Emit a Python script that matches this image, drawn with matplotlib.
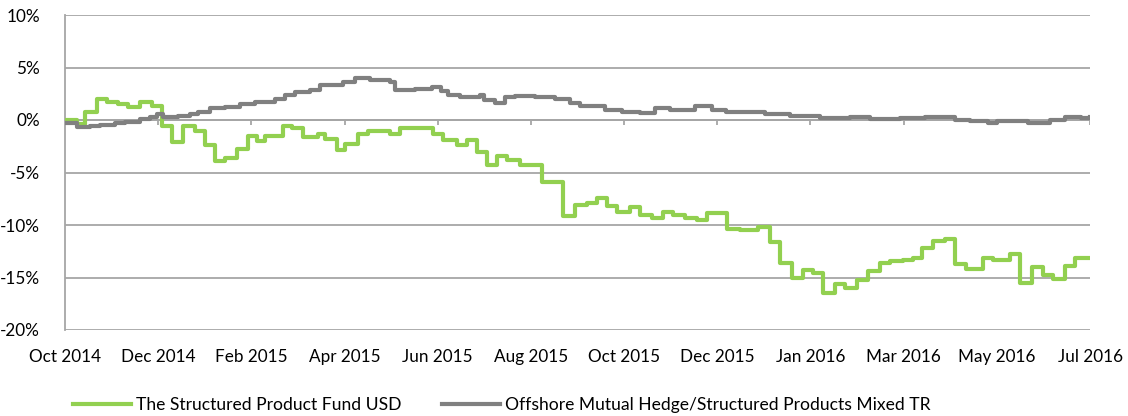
import numpy as np
import matplotlib
matplotlib.use("Agg")
import matplotlib.pyplot as plt

plt.rcParams['font.family'] = ['Lato', 'DejaVu Sans']

# axis labels (equally spaced category ticks)
tick_labels = ["Oct 2014", "Dec 2014", "Feb 2015", "Apr 2015", "Jun 2015", "Aug 2015",
               "Oct 2015", "Dec 2015", "Jan 2016", "Mar 2016", "May 2016", "Jul 2016"]

# The Structured Product Fund USD: step start (tick-index units), return %
fund_x = [0.00, 0.13, 0.21, 0.34, 0.45, 0.57, 0.68, 0.80, 0.93, 1.04, 1.15, 1.27,
          1.40, 1.50, 1.61, 1.72, 1.85, 1.96, 2.06, 2.15, 2.34, 2.44, 2.55, 2.72,
          2.79, 2.92, 3.00, 3.14, 3.25, 3.49, 3.60, 3.95, 4.06, 4.21, 4.31, 4.42,
          4.53, 4.64, 4.74, 4.88, 5.12, 5.34, 5.47, 5.60, 5.71, 5.82, 5.92, 6.06,
          6.17, 6.30, 6.42, 6.53, 6.65, 6.78, 6.89, 7.10, 7.24, 7.44, 7.57, 7.67,
          7.80, 7.92, 8.03, 8.13, 8.26, 8.37, 8.50, 8.62, 8.75, 8.85, 8.99, 9.10,
          9.20, 9.32, 9.44, 9.55, 9.67, 9.85, 9.96, 10.14, 10.25, 10.38, 10.50,
          10.60, 10.73, 10.84, 11.00]
fund_y = [0.0, -0.4, 0.8, 2.0, 1.7, 1.5, 1.2, 1.7, 1.3, -0.6, -2.1, -0.6,
          -1.0, -2.4, -3.9, -3.6, -2.8, -1.5, -2.0, -1.5, -0.6, -0.8, -1.6, -1.3,
          -1.8, -2.9, -2.3, -1.3, -1.0, -1.3, -0.8, -1.3, -1.9, -2.4, -1.9, -3.0,
          -4.3, -3.4, -3.8, -4.3, -5.9, -9.1, -8.1, -7.9, -7.4, -8.2, -8.8, -8.3,
          -9.0, -9.3, -8.8, -9.0, -9.3, -9.5, -8.9, -10.4, -10.5, -10.2, -11.6, -13.6,
          -15.0, -14.3, -14.6, -16.5, -15.6, -16.0, -15.2, -14.4, -13.6, -13.4, -13.3, -13.1,
          -12.2, -11.5, -11.3, -13.7, -14.2, -13.1, -13.3, -12.8, -15.5, -14.0, -14.8,
          -15.1, -13.9, -13.1, -13.1]

# Offshore Mutual Hedge/Structured Products Mixed TR
peer_x = [0.00, 0.13, 0.27, 0.38, 0.54, 0.64, 0.80, 0.91, 0.99, 1.05, 1.21, 1.34,
          1.43, 1.56, 1.72, 1.88, 2.04, 2.25, 2.36, 2.47, 2.63, 2.74, 2.98, 3.11,
          3.27, 3.49, 3.54, 3.76, 3.94, 4.03, 4.11, 4.24, 4.45, 4.50, 4.61, 4.72,
          4.83, 5.04, 5.26, 5.42, 5.53, 5.79, 5.98, 6.17, 6.33, 6.49, 6.76, 6.94,
          7.09, 7.51, 7.78, 8.10, 8.42, 8.64, 8.96, 9.23, 9.55, 9.71, 9.90, 10.00,
          10.33, 10.57, 10.73, 10.90, 11.00]
peer_y = [-0.3, -0.7, -0.6, -0.5, -0.3, -0.2, 0.1, 0.3, 0.6, 0.3, 0.4, 0.6,
          0.8, 1.1, 1.2, 1.5, 1.7, 2.0, 2.4, 2.7, 2.9, 3.3, 3.6, 4.0,
          3.8, 3.6, 2.9, 3.0, 3.1, 2.8, 2.4, 2.2, 2.4, 1.9, 1.6, 2.2,
          2.3, 2.2, 2.0, 1.6, 1.3, 1.0, 0.8, 0.7, 1.1, 1.0, 1.3, 1.0,
          0.8, 0.6, 0.4, 0.2, 0.3, 0.1, 0.2, 0.3, 0.0, -0.1, -0.3, -0.1,
          -0.3, 0.0, 0.3, 0.2, 0.3]

green = "#92D050"
grey = "#808080"
axis_grey = "#A6A6A6"

fig = plt.figure(figsize=(11.28, 4.16), dpi=100)
ax = fig.add_axes([65/1128, 1-330/416, 1025/1128, 315/416])

ax.step(fund_x, fund_y, where='post', color=green, lw=3.0,
        solid_joinstyle='round', label="The Structured Product Fund USD", zorder=3)
ax.step(peer_x, peer_y, where='post', color=grey, lw=3.0,
        solid_joinstyle='round', label="Offshore Mutual Hedge/Structured Products Mixed TR", zorder=3)

ax.set_xlim(0, 11)
ax.set_ylim(-20, 10)
yt = np.arange(-20, 11, 5)
ax.set_yticks(yt)
ax.set_yticklabels([f"{v}%" for v in yt])
ax.set_xticks(np.arange(len(tick_labels)))
ax.set_xticklabels(tick_labels)
ax.yaxis.grid(True, color=axis_grey, lw=1.3)
ax.set_axisbelow(True)

for s in ['top', 'right', 'bottom']:
    ax.spines[s].set_visible(False)
ax.spines['left'].set_color(axis_grey)
ax.spines['left'].set_linewidth(1.3)

ax.tick_params(axis='y', length=0, pad=18, labelsize=12.3)
ax.tick_params(axis='x', length=0, pad=14, labelsize=12.3)

# horizontal axis crosses at 0% with outward tick marks
ax.axhline(0, color=axis_grey, lw=1.3, zorder=2)
ax.vlines(np.arange(len(tick_labels)), -0.5, 0, color=axis_grey, lw=1.3, zorder=2)

fig.legend(loc='center left', bbox_to_anchor=(73/1128, 1-405/416), ncol=2,
           frameon=False, fontsize=12.6, handlelength=3.3, handletextpad=0.3,
           columnspacing=2.3, borderpad=0, borderaxespad=0)

fig.savefig("out.png", dpi=100)
